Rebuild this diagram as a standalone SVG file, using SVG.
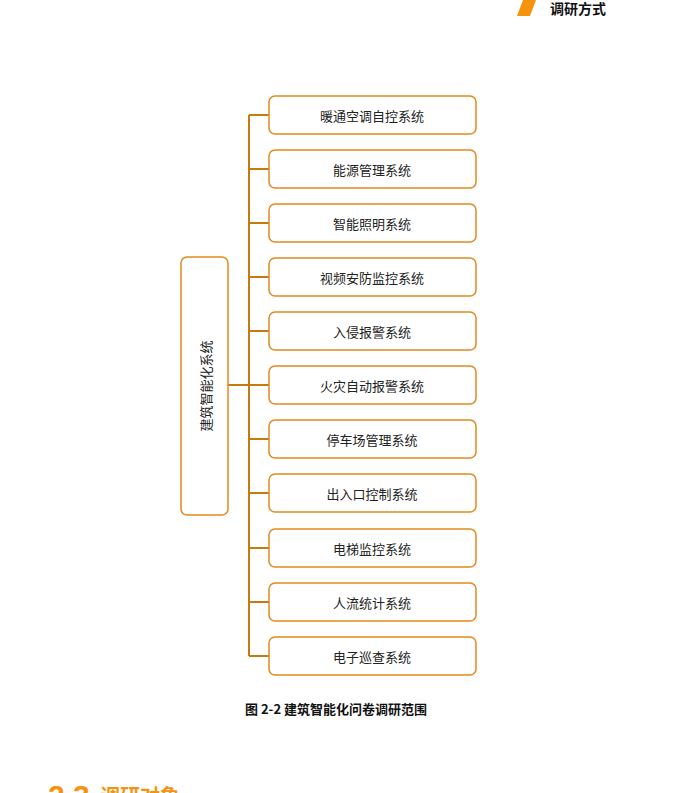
<svg xmlns="http://www.w3.org/2000/svg" width="686" height="793" viewBox="0 0 686 793">
<style>
.b{fill:#fff;stroke:#e28a1e;stroke-width:1.5}
.t{font-family:"Noto Sans CJK SC",sans-serif;font-size:13px;fill:#222;text-anchor:middle;dominant-baseline:central}
.c{stroke:#c77a10;stroke-width:2;fill:none}
</style>
<rect width="686" height="793" fill="#fff"/>
<polygon points="523,0 536,0 530,16 517,16" fill="#f5930f"/>
<text x="550" y="8" font-family="Noto Sans CJK SC,sans-serif" font-weight="bold" font-size="14" fill="#111" dominant-baseline="central">调研方式</text>
<g id="connectors">
<path class="c" d="M249,115V656M228,385H249"/>
<path class="c" d="M249,115H269M249,169H269M249,223H269M249,277H269M249,331H269M249,385H269M249,439H269M249,493H269M249,548H269M249,602H269M249,656H269"/>
</g>
<g id="root"><rect class="b" x="181" y="257" width="47" height="258" rx="6"/>
<text class="t" transform="translate(205,386) rotate(-90)">建筑智能化系统</text></g>
<g id="n1"><rect class="b" x="269" y="96" width="207" height="38" rx="6"/><text class="t" x="372" y="115">暖通空调自控系统</text></g>
<g id="n2"><rect class="b" x="269" y="150" width="207" height="38" rx="6"/><text class="t" x="372" y="169">能源管理系统</text></g>
<g id="n3"><rect class="b" x="269" y="204" width="207" height="38" rx="6"/><text class="t" x="372" y="223">智能照明系统</text></g>
<g id="n4"><rect class="b" x="269" y="258" width="207" height="38" rx="6"/><text class="t" x="372" y="277">视频安防监控系统</text></g>
<g id="n5"><rect class="b" x="269" y="312" width="207" height="38" rx="6"/><text class="t" x="372" y="331">入侵报警系统</text></g>
<g id="n6"><rect class="b" x="269" y="366" width="207" height="38" rx="6"/><text class="t" x="372" y="385">火灾自动报警系统</text></g>
<g id="n7"><rect class="b" x="269" y="420" width="207" height="38" rx="6"/><text class="t" x="372" y="439">停车场管理系统</text></g>
<g id="n8"><rect class="b" x="269" y="474" width="207" height="38" rx="6"/><text class="t" x="372" y="493">出入口控制系统</text></g>
<g id="n9"><rect class="b" x="269" y="529" width="207" height="38" rx="6"/><text class="t" x="372" y="548">电梯监控系统</text></g>
<g id="n10"><rect class="b" x="269" y="583" width="207" height="38" rx="6"/><text class="t" x="372" y="602">人流统计系统</text></g>
<g id="n11"><rect class="b" x="269" y="637" width="207" height="38" rx="6"/><text class="t" x="372" y="656">电子巡查系统</text></g>
<text x="336" y="708" font-family="Noto Sans CJK SC,sans-serif" font-weight="bold" font-size="13" fill="#111" text-anchor="middle" dominant-baseline="central">图 2-2 建筑智能化问卷调研范围</text>
<text x="48" y="806" font-family="Liberation Sans,sans-serif" font-weight="bold" font-size="30" fill="#f5930f">2.3</text>
<text x="100" y="804" font-family="Noto Sans CJK SC,sans-serif" font-weight="bold" font-size="20" fill="#f5930f">调研对象</text>
</svg>
